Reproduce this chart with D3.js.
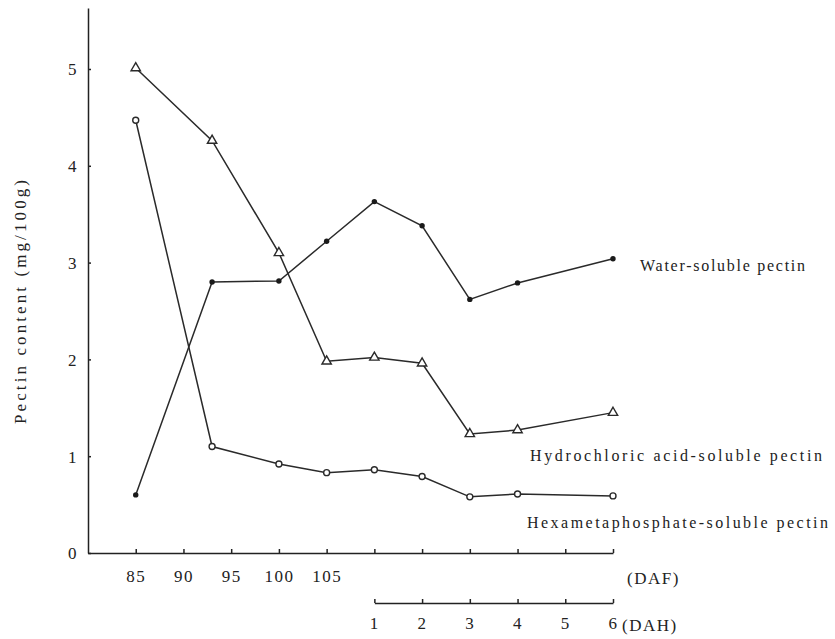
<!DOCTYPE html>
<html>
<head>
<meta charset="utf-8">
<script src="https://cdn.jsdelivr.net/npm/d3@7"></script>
<style>
  html, body { margin: 0; padding: 0; background: #fff; }
  svg { display: block; }
</style>
</head>
<body>
<script>
// Sampling stages: days after flowering (DAF) on the tree, then days after harvest (DAH) in storage
const stageType = ["DAF", "DAF", "DAF", "DAF", "DAH", "DAH", "DAH", "DAH", "DAH"];
const stageDay  = [85, 93, 100, 105, 1, 2, 3, 4, 6];

// Pectin content (mg/100g)
const waterSoluble = [0.60, 2.80, 2.81, 3.22, 3.63, 3.38, 2.62, 2.79, 3.04];
const hclSoluble   = [5.01, 4.26, 3.10, 1.98, 2.02, 1.96, 1.23, 1.27, 1.45];
const hexaSoluble  = [4.47, 1.10, 0.92, 0.83, 0.86, 0.79, 0.58, 0.61, 0.59];

const seriesNames = ["Water-soluble pectin", "Hydrochloric acid-soluble pectin", "Hexametaphosphate-soluble pectin"];

const dafTicks = [85, 90, 95, 100, 105, 110, 115, 120, 125, 130, 135];
const dafLabels = [85, 90, 95, 100, 105];
const dahTicks = [1, 2, 3, 4, 5, 6];
const yTicks = [0, 1, 2, 3, 4, 5];

const FONT = '"Liberation Serif", "Times New Roman", serif';
const INK = "#222";

const W = 835, H = 639;
const svg = d3.select("body").append("svg").attr("width", W).attr("height", H);

const xDAF = d3.scaleLinear().domain([80, 135]).range([88, 613]);
const xDAH = d3.scaleLinear().domain([1, 6]).range([xDAF(110), xDAF(135)]);
const y = d3.scaleLinear().domain([0, 5.63]).range([553, 8]);

const xPos = i => stageType[i] === "DAF" ? xDAF(stageDay[i]) : xDAH(stageDay[i]);

function styleAxis(g) {
  g.attr("font-family", null).attr("font-size", null);
  g.selectAll("path, line").attr("stroke", INK).attr("stroke-width", 1.5);
  g.selectAll("text")
    .style("font-family", FONT).style("font-size", "17px")
    .style("letter-spacing", "1.5px").attr("fill", INK);
}

// Axes
svg.append("g")
  .attr("transform", "translate(88,0)")
  .call(d3.axisLeft(y).tickValues(yTicks).tickSize(-3).tickSizeOuter(0).tickPadding(10).tickFormat(d3.format("d")))
  .call(styleAxis)
  .call(g => g.selectAll("text").attr("dy", "0.35em"));

svg.append("g")
  .attr("transform", "translate(0,553)")
  .call(d3.axisBottom(xDAF).tickValues(dafTicks).tickSize(-4).tickSizeOuter(0).tickPadding(17)
    .tickFormat(d => dafLabels.includes(d) ? d : ""))
  .call(styleAxis);

svg.append("g")
  .attr("transform", "translate(0,603)")
  .call(d3.axisBottom(xDAH).tickValues(dahTicks).tickSize(-4).tickSizeOuter(0).tickPadding(14).tickFormat(d3.format("d")))
  .call(styleAxis);

const unitLabels = [["(DAF)", 627, 584], ["(DAH)", 622, 631]];
unitLabels.forEach(([t, x0, y0]) => {
  svg.append("text").attr("x", x0).attr("y", y0).attr("fill", INK)
    .style("font-family", FONT).style("font-size", "17px").style("letter-spacing", "1.5px")
    .text(t);
});

// Y axis title
svg.append("text")
  .attr("transform", "translate(26,302) rotate(-90)")
  .attr("text-anchor", "middle")
  .attr("fill", INK)
  .attr("textLength", 244).attr("lengthAdjust", "spacing")
  .style("font-family", FONT).style("font-size", "17px")
  .text("Pectin content (mg/100g)");

// Lines
const line = d3.line().x((d, i) => xPos(i)).y(d => y(d));
const allSeries = [waterSoluble, hclSoluble, hexaSoluble];
allSeries.forEach(vals => {
  svg.append("path").attr("d", line(vals))
    .attr("fill", "none").attr("stroke", "#2a2a2a").attr("stroke-width", 1.5);
});

// Markers: filled dots, open triangles, open circles
svg.append("g").selectAll("circle").data(waterSoluble).join("circle")
  .attr("cx", (d, i) => xPos(i)).attr("cy", d => y(d)).attr("r", 2.7).attr("fill", "#1a1a1a");

const tri = d3.symbol().type(d3.symbolTriangle).size(38);
svg.append("g").selectAll("path").data(hclSoluble).join("path")
  .attr("d", tri)
  .attr("transform", (d, i) => `translate(${xPos(i)},${y(d)})`)
  .attr("fill", "#fff").attr("stroke", "#2a2a2a").attr("stroke-width", 1.4);

svg.append("g").selectAll("circle").data(hexaSoluble).join("circle")
  .attr("cx", (d, i) => xPos(i)).attr("cy", d => y(d)).attr("r", 3)
  .attr("fill", "#fff").attr("stroke", "#2a2a2a").attr("stroke-width", 1.4);

// Series labels
const labelPos = [[640, 271, 165], [530, 461, 292], [527, 528, 301]];
seriesNames.forEach((name, k) => {
  svg.append("text").attr("x", labelPos[k][0]).attr("y", labelPos[k][1])
    .attr("fill", INK)
    .attr("textLength", labelPos[k][2]).attr("lengthAdjust", "spacing")
    .style("font-family", FONT).style("font-size", "16px")
    .text(name);
});
</script>
</body>
</html>
